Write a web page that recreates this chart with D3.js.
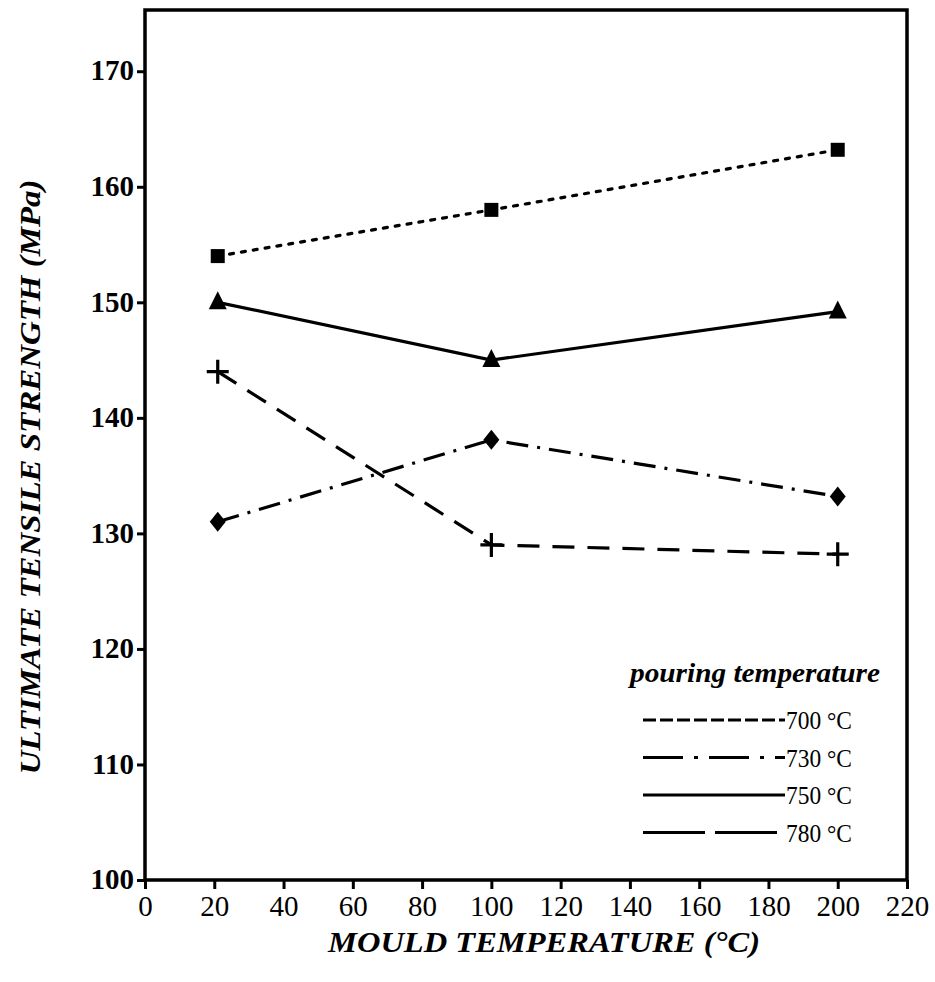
<!DOCTYPE html>
<html><head><meta charset="utf-8">
<script src="https://cdnjs.cloudflare.com/ajax/libs/d3/7.8.5/d3.min.js"></script>
<style>body{margin:0;background:#fff}svg{display:block}</style>
</head><body><div id="chart"></div>
<script>
const mouldTemps = [21, 100, 200];
const seriesSquare = [154, 158, 163.2];
const seriesTriangle = [150, 145, 149.2];
const seriesCross = [144, 129, 128.2];
const seriesDiamond = [131, 138.1, 133.2];
const xTicks = [0,20,40,60,80,100,120,140,160,180,200,220];
const yTicks = [100,110,120,130,140,150,160,170];
const legendLabels = ["700 °C","730 °C","750 °C","780 °C"];
const legendTitle = "pouring temperature";
const xTitle = "MOULD TEMPERATURE  (°C)";
const yTitle = "ULTIMATE TENSILE STRENGTH (MPa)";

const W = 935, H = 982;
const L = 145, R = 907, T = 10, B = 880;
const svg = d3.select("#chart").append("svg").attr("width", W).attr("height", H);
const x = d3.scaleLinear().domain([0, 220]).range([L, R]);
const y = d3.scaleLinear().domain([100, 175.3]).range([B, T]);
const font = "'Liberation Serif', 'Times New Roman', serif";

// axes
const xa = svg.append("g").attr("transform", `translate(0,${B})`)
  .call(d3.axisBottom(x).tickValues(xTicks).tickSize(9).tickPadding(6).tickFormat(d3.format("d")));
const ya = svg.append("g").attr("transform", `translate(${L},0)`)
  .call(d3.axisLeft(y).tickValues(yTicks).tickSize(8).tickPadding(3).tickFormat(d3.format("d")));
[xa, ya].forEach(a => {
  a.select(".domain").remove();
  a.selectAll("line").attr("stroke", "#000").attr("stroke-width", 3);
  a.selectAll("text").attr("font-family", font).attr("font-size", 29).attr("fill", "#000");
});
ya.selectAll("text").attr("font-size", 29).attr("font-weight", "bold").attr("dy", "0.3em");
// frame
svg.append("rect").attr("x", L).attr("y", T).attr("width", R - L).attr("height", B - T)
  .attr("fill", "none").attr("stroke", "#000").attr("stroke-width", 3.5);

// titles
svg.append("text").attr("x", 544).attr("y", 952).attr("text-anchor", "middle")
  .attr("font-family", font).attr("font-style", "italic").attr("font-weight", "bold")
  .attr("font-size", 30).attr("textLength", 432).attr("lengthAdjust", "spacingAndGlyphs").text(xTitle);
svg.append("text").attr("transform", `translate(40,477) rotate(-90)`)
  .attr("text-anchor", "middle").attr("font-family", font).attr("font-style", "italic")
  .attr("font-weight", "bold").attr("font-size", 29).attr("textLength", 595)
  .attr("lengthAdjust", "spacingAndGlyphs").text(yTitle);

// series
const line = d3.line().x(d => x(d[0])).y(d => y(d[1]));
const series = [
  {vals: seriesSquare, dash: "4,8", cap: "round", marker: "square"},
  {vals: seriesTriangle, dash: null, cap: "butt", marker: "triangle"},
  {vals: seriesCross, dash: "22,13", cap: "butt", marker: "cross"},
  {vals: seriesDiamond, dash: "22,9,3,9", cap: "butt", marker: "diamond"}
];
series.forEach(s => {
  const pts = mouldTemps.map((t, i) => [t, s.vals[i]]);
  svg.append("path").datum(pts).attr("d", line).attr("fill", "none")
    .attr("stroke", "#000").attr("stroke-width", 3.2)
    .attr("stroke-dasharray", s.dash).attr("stroke-linecap", s.cap);
  const g = svg.append("g");
  pts.forEach(p => {
    const cx = x(p[0]), cy = y(p[1]);
    if (s.marker === "square") g.append("rect").attr("x", cx - 7).attr("y", cy - 7).attr("width", 14).attr("height", 14).attr("fill", "#000");
    if (s.marker === "triangle") g.append("path").attr("d", `M${cx},${cy - 11}L${cx + 9},${cy + 7}L${cx - 9},${cy + 7}Z`).attr("fill", "#000");
    if (s.marker === "diamond") g.append("path").attr("d", `M${cx},${cy - 10}L${cx + 8},${cy}L${cx},${cy + 10}L${cx - 8},${cy}Z`).attr("fill", "#000");
    if (s.marker === "cross") g.append("path").attr("d", `M${cx - 11},${cy}H${cx + 11}M${cx},${cy - 12}V${cy + 12}`).attr("stroke", "#000").attr("stroke-width", 3.2);
  });
});

// legend
svg.append("text").attr("x", 880).attr("y", 682).attr("text-anchor", "end")
  .attr("font-family", font).attr("font-style", "italic").attr("font-weight", "bold")
  .attr("font-size", 27).attr("textLength", 250).attr("lengthAdjust", "spacingAndGlyphs").text(legendTitle);
const legDash = ["13,4", "40,11,4,11", null, "62,10"];
legendLabels.forEach((lab, i) => {
  const ly = 720 + i * 37.5;
  svg.append("line").attr("x1", 643).attr("x2", 785).attr("y1", ly).attr("y2", ly)
    .attr("stroke", "#000").attr("stroke-width", 3).attr("stroke-dasharray", legDash[i]);
  svg.append("text").attr("x", 786).attr("y", ly + 9).attr("font-family", font)
    .attr("font-size", 25).attr("textLength", 66).attr("lengthAdjust", "spacingAndGlyphs").text(lab);
});
</script></body></html>
